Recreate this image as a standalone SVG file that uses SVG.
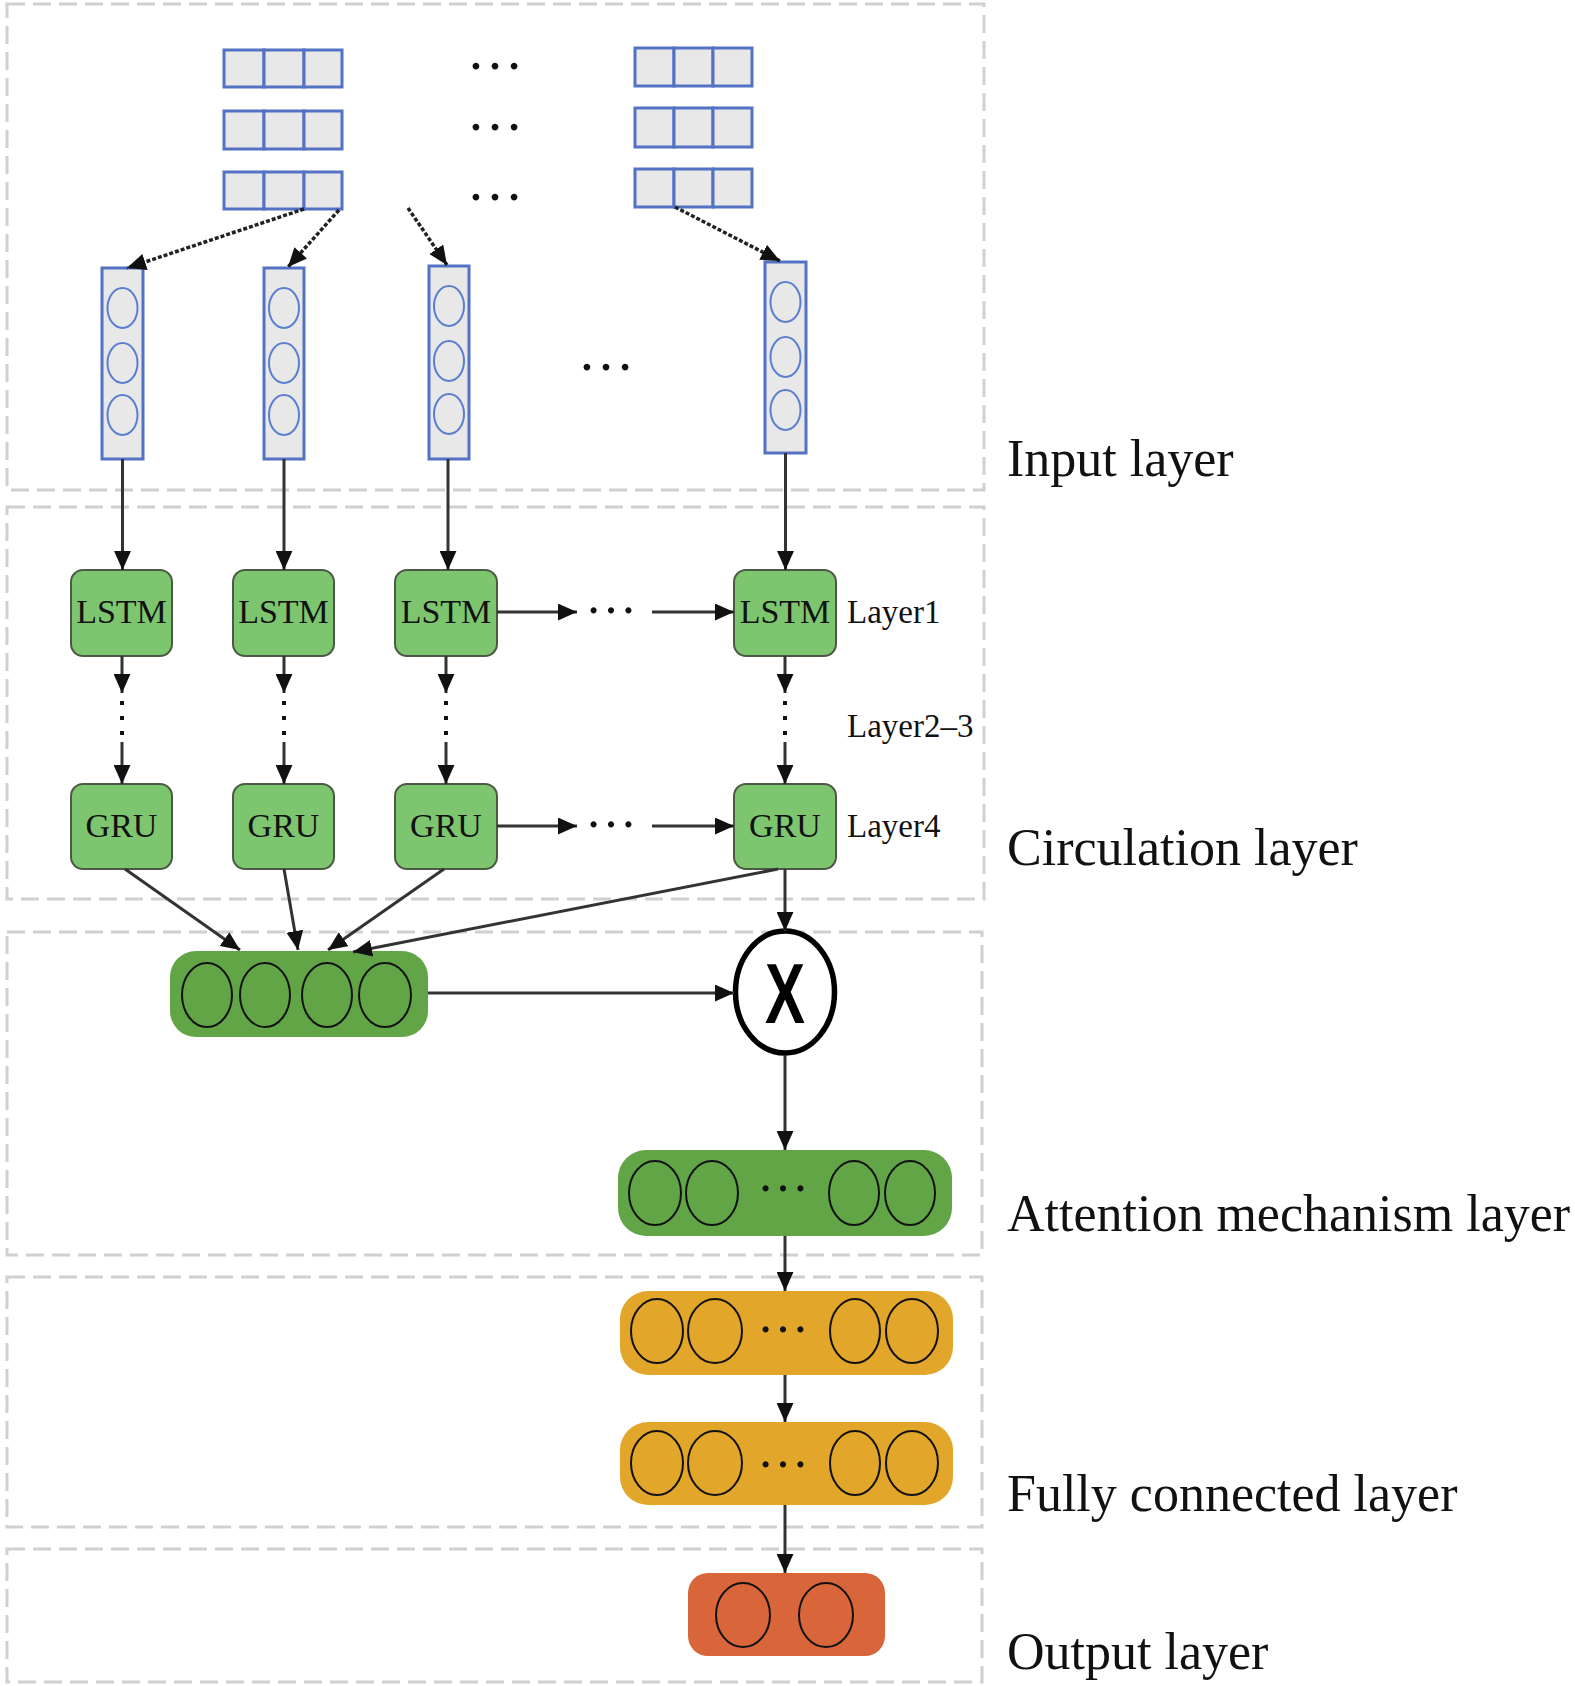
<svg xmlns="http://www.w3.org/2000/svg" width="1575" height="1686" viewBox="0 0 1575 1686">
<defs>
<style>
.grp{fill:none;stroke:#d0d0d0;stroke-width:3;stroke-dasharray:18 8}
.cell{fill:#e8e8e8;stroke:#5472c4;stroke-width:3}
.col{fill:#e8e8e8;stroke:#5472c4;stroke-width:3}
.neu{fill:none;stroke:#5b7fd0;stroke-width:2}
.rnn{fill:#7ec56f;stroke:#4a5a45;stroke-width:2}
.lbl{font-family:"Liberation Serif","Times New Roman",serif;fill:#111}
.big{font-size:52px}
.sm{font-size:33px}
.box{font-size:34px;text-anchor:middle}
.dots{font-family:"Liberation Serif",serif;font-size:52px;text-anchor:middle;fill:#111}
.vec{stroke:#111;stroke-width:2;fill:none}
.g1{fill:#62a546}
.y1{fill:#e2a72a}
.o1{fill:#d9663a}
.ln{stroke:#333;stroke-width:3;fill:none}
.dot{stroke:#222;stroke-width:3.5;fill:none;stroke-dasharray:4 2}
</style>
<marker id="ah" viewBox="0 0 18 16" refX="18" refY="8" markerWidth="19" markerHeight="17" markerUnits="userSpaceOnUse" orient="auto">
<path d="M0,0 L18,8 L0,16 z" fill="#111"/>
</marker>
</defs>
<rect width="1575" height="1686" fill="#fff"/>

<g id="layer-boxes">
<rect class="grp" x="7" y="4" width="977" height="486"/>
<rect class="grp" x="7" y="507" width="977" height="392"/>
<rect class="grp" x="7" y="932" width="975" height="323"/>
<rect class="grp" x="7" y="1277" width="975" height="250"/>
<rect class="grp" x="7" y="1549" width="975" height="133"/>
</g>

<g id="layer-labels">
<text class="lbl big" x="1007" y="476">Input layer</text>
<text class="lbl big" x="1007" y="865">Circulation layer</text>
<text class="lbl big" x="1007" y="1231">Attention mechanism layer</text>
<text class="lbl big" x="1007" y="1511">Fully connected layer</text>
<text class="lbl big" x="1007" y="1669">Output layer</text>
<text class="lbl sm" x="847" y="623">Layer1</text>
<text class="lbl sm" x="847" y="737">Layer2–3</text>
<text class="lbl sm" x="847" y="837">Layer4</text>
</g>

<g id="input-grid-left">
<rect class="cell" x="224" y="50" width="40" height="37"/><rect class="cell" x="264" y="50" width="40" height="37"/><rect class="cell" x="304" y="50" width="38" height="37"/>
<rect class="cell" x="224" y="111" width="40" height="38"/><rect class="cell" x="264" y="111" width="40" height="38"/><rect class="cell" x="304" y="111" width="38" height="38"/>
<rect class="cell" x="224" y="172" width="40" height="37"/><rect class="cell" x="264" y="172" width="40" height="37"/><rect class="cell" x="304" y="172" width="38" height="37"/>
</g>
<g id="input-grid-right">
<rect class="cell" x="635" y="48" width="39" height="38"/><rect class="cell" x="674" y="48" width="39" height="38"/><rect class="cell" x="713" y="48" width="39" height="38"/>
<rect class="cell" x="635" y="108" width="39" height="39"/><rect class="cell" x="674" y="108" width="39" height="39"/><rect class="cell" x="713" y="108" width="39" height="39"/>
<rect class="cell" x="635" y="169" width="39" height="38"/><rect class="cell" x="674" y="169" width="39" height="38"/><rect class="cell" x="713" y="169" width="39" height="38"/>
</g>
<g id="input-dots">
<text class="dots" x="495" y="69" style="font-size:57px">…</text>
<text class="dots" x="495" y="130" style="font-size:57px">…</text>
<text class="dots" x="495" y="200" style="font-size:57px">…</text>
<text class="dots" x="606" y="370" style="font-size:57px">…</text>
</g>

<g id="input-col1">
<rect class="col" x="102" y="268" width="41" height="191"/>
<ellipse class="neu" cx="122.5" cy="308" rx="15" ry="20"/><ellipse class="neu" cx="122.5" cy="363" rx="15" ry="20"/><ellipse class="neu" cx="122.5" cy="415" rx="15" ry="20"/>
</g>
<g id="input-col2">
<rect class="col" x="264" y="268" width="40" height="191"/>
<ellipse class="neu" cx="284" cy="308" rx="15" ry="20"/><ellipse class="neu" cx="284" cy="363" rx="15" ry="20"/><ellipse class="neu" cx="284" cy="415" rx="15" ry="20"/>
</g>
<g id="input-col3">
<rect class="col" x="429" y="266" width="40" height="193"/>
<ellipse class="neu" cx="449" cy="306" rx="15" ry="20"/><ellipse class="neu" cx="449" cy="361" rx="15" ry="20"/><ellipse class="neu" cx="449" cy="414" rx="15" ry="20"/>
</g>
<g id="input-col4">
<rect class="col" x="765" y="262" width="41" height="191"/>
<ellipse class="neu" cx="785.5" cy="302" rx="15" ry="20"/><ellipse class="neu" cx="785.5" cy="357" rx="15" ry="20"/><ellipse class="neu" cx="785.5" cy="410" rx="15" ry="20"/>
</g>

<g id="lstm1"><rect class="rnn" x="71" y="570" width="101" height="86" rx="12"/><text class="lbl box" x="121.5" y="623">LSTM</text></g>
<g id="lstm2"><rect class="rnn" x="233" y="570" width="101" height="86" rx="12"/><text class="lbl box" x="283.5" y="623">LSTM</text></g>
<g id="lstm3"><rect class="rnn" x="395" y="570" width="102" height="86" rx="12"/><text class="lbl box" x="446" y="623">LSTM</text></g>
<g id="lstm4"><rect class="rnn" x="734" y="570" width="102" height="86" rx="12"/><text class="lbl box" x="785" y="623">LSTM</text></g>
<g id="gru1"><rect class="rnn" x="71" y="784" width="101" height="85" rx="12"/><text class="lbl box" x="121.5" y="837">GRU</text></g>
<g id="gru2"><rect class="rnn" x="233" y="784" width="101" height="85" rx="12"/><text class="lbl box" x="283.5" y="837">GRU</text></g>
<g id="gru3"><rect class="rnn" x="395" y="784" width="102" height="85" rx="12"/><text class="lbl box" x="446" y="837">GRU</text></g>
<g id="gru4"><rect class="rnn" x="734" y="784" width="102" height="85" rx="12"/><text class="lbl box" x="785" y="837">GRU</text></g>
<g id="rnn-dots">
<text class="dots" x="611" y="613">…</text>
<text class="dots" x="611" y="827">…</text>
</g>

<g id="attn-vector">
<rect class="g1" x="170" y="951" width="258" height="86" rx="26"/>
<ellipse class="vec" cx="207" cy="995" rx="25" ry="32"/><ellipse class="vec" cx="265" cy="995" rx="25" ry="32"/><ellipse class="vec" cx="327" cy="995" rx="25" ry="32"/><ellipse class="vec" cx="385" cy="995" rx="26" ry="32"/>
</g>

<g id="multiply">
<ellipse cx="785" cy="992" rx="49.5" ry="61" fill="#fff" stroke="#000" stroke-width="5.5"/>
<text x="785" y="1023" text-anchor="middle" font-family="Liberation Sans,Arial,sans-serif" font-weight="bold" font-size="85" textLength="40" lengthAdjust="spacingAndGlyphs" fill="#000">X</text>
</g>

<g id="attn-out">
<rect class="g1" x="618" y="1150" width="334" height="86" rx="28"/>
<ellipse class="vec" cx="655" cy="1193" rx="26" ry="32"/><ellipse class="vec" cx="712" cy="1193" rx="26" ry="32"/><ellipse class="vec" cx="854" cy="1193" rx="25" ry="32"/><ellipse class="vec" cx="910" cy="1193" rx="25" ry="32"/>
<text class="dots" x="783" y="1191">…</text>
</g>

<g id="fc1">
<rect class="y1" x="620" y="1291" width="333" height="84" rx="28"/>
<ellipse class="vec" cx="657" cy="1331" rx="26" ry="32"/><ellipse class="vec" cx="715" cy="1331" rx="27" ry="32"/><ellipse class="vec" cx="855" cy="1331" rx="25" ry="32"/><ellipse class="vec" cx="912" cy="1331" rx="26" ry="32"/>
<text class="dots" x="783" y="1332">…</text>
</g>
<g id="fc2">
<rect class="y1" x="620" y="1422" width="333" height="83" rx="28"/>
<ellipse class="vec" cx="657" cy="1463" rx="26" ry="32"/><ellipse class="vec" cx="715" cy="1463" rx="27" ry="32"/><ellipse class="vec" cx="855" cy="1463" rx="25" ry="32"/><ellipse class="vec" cx="912" cy="1463" rx="26" ry="32"/>
<text class="dots" x="783" y="1467">…</text>
</g>

<g id="output">
<rect class="o1" x="688" y="1573" width="197" height="83" rx="20"/>
<ellipse class="vec" cx="743" cy="1615" rx="27" ry="32"/><ellipse class="vec" cx="826" cy="1615" rx="27" ry="32"/>
</g>

<g id="connectors">
<line class="dot" x1="304" y1="209" x2="127" y2="268" marker-end="url(#ah)"/>
<line class="dot" x1="339" y1="210" x2="288" y2="267" marker-end="url(#ah)"/>
<line class="dot" x1="408" y1="208" x2="447" y2="265" marker-end="url(#ah)"/>
<line class="dot" x1="675" y1="207" x2="780" y2="261" marker-end="url(#ah)"/>

<line class="ln" x1="122.5" y1="459" x2="122.5" y2="570" marker-end="url(#ah)"/>
<line class="ln" x1="284" y1="459" x2="284" y2="570" marker-end="url(#ah)"/>
<line class="ln" x1="448" y1="459" x2="448" y2="570" marker-end="url(#ah)"/>
<line class="ln" x1="785.5" y1="453" x2="785.5" y2="570" marker-end="url(#ah)"/>

<line class="ln" x1="497" y1="612" x2="577" y2="612" marker-end="url(#ah)"/>
<line class="ln" x1="652" y1="612" x2="734" y2="612" marker-end="url(#ah)"/>
<line class="ln" x1="497" y1="826" x2="577" y2="826" stroke-width="4.5" stroke="#444" marker-end="url(#ah)"/>
<line class="ln" x1="652" y1="826" x2="734" y2="826" stroke-width="4.5" stroke="#444" marker-end="url(#ah)"/>

<g id="lstm-gru-links">
<line class="ln" x1="122" y1="656" x2="122" y2="693" marker-end="url(#ah)"/>
<line x1="122" y1="701" x2="122" y2="740" stroke="#111" stroke-width="4" stroke-dasharray="4 11"/>
<line class="ln" x1="122" y1="742" x2="122" y2="784" marker-end="url(#ah)"/>
<line class="ln" x1="284" y1="656" x2="284" y2="693" marker-end="url(#ah)"/>
<line x1="284" y1="701" x2="284" y2="740" stroke="#111" stroke-width="4" stroke-dasharray="4 11"/>
<line class="ln" x1="284" y1="742" x2="284" y2="784" marker-end="url(#ah)"/>
<line class="ln" x1="446" y1="656" x2="446" y2="693" marker-end="url(#ah)"/>
<line x1="446" y1="701" x2="446" y2="740" stroke="#111" stroke-width="4" stroke-dasharray="4 11"/>
<line class="ln" x1="446" y1="742" x2="446" y2="784" marker-end="url(#ah)"/>
<line class="ln" x1="785" y1="656" x2="785" y2="693" marker-end="url(#ah)"/>
<line x1="785" y1="701" x2="785" y2="740" stroke="#111" stroke-width="4" stroke-dasharray="4 11"/>
<line class="ln" x1="785" y1="742" x2="785" y2="784" marker-end="url(#ah)"/>
</g>

<line class="ln" x1="125" y1="869" x2="240" y2="950" marker-end="url(#ah)"/>
<line class="ln" x1="284" y1="869" x2="298" y2="950" stroke-width="2" marker-end="url(#ah)"/>
<line class="ln" x1="444" y1="869" x2="328" y2="950" marker-end="url(#ah)"/>
<line class="ln" x1="778" y1="869" x2="353" y2="952" stroke-width="3.5" marker-end="url(#ah)"/>
<line class="ln" x1="785" y1="869" x2="785" y2="931" marker-end="url(#ah)"/>
<line class="ln" x1="428" y1="993" x2="734" y2="993" marker-end="url(#ah)"/>
<line class="ln" x1="785" y1="1055" x2="785" y2="1150" marker-end="url(#ah)"/>
<line class="ln" x1="785" y1="1236" x2="785" y2="1291" marker-end="url(#ah)"/>
<line class="ln" x1="785" y1="1375" x2="785" y2="1422" marker-end="url(#ah)"/>
<line class="ln" x1="785" y1="1505" x2="785" y2="1573" marker-end="url(#ah)"/>
</g>
</svg>
